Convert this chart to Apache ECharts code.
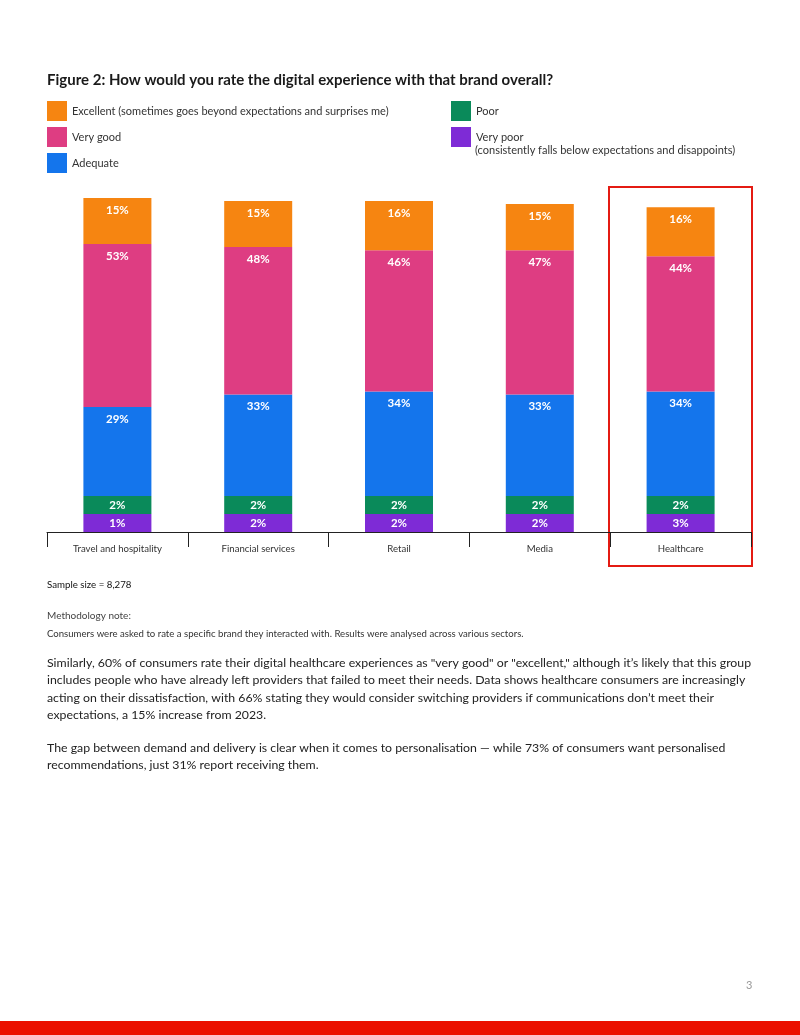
<!DOCTYPE html>
<html>
<head>
    <meta charset="UTF-8">
    <title>Figure 2</title>
    <script src="https://cdn.jsdelivr.net/npm/echarts@6/dist/echarts.min.js"></script>
    <style>
        html, body { margin: 0; padding: 0; background: #fff; }
        #chart { width: 800px; height: 1035px; }
    </style>
</head>
<body>
<div id="chart"></div>
<script type="text/javascript">
    // categories along the x axis
    var sectors = ['Travel and hospitality', 'Financial services', 'Retail', 'Media', 'Healthcare'];

    // percentages per rating (bottom of stack first)
    var veryPoor  = [1, 2, 2, 2, 3];
    var poor      = [2, 2, 2, 2, 2];
    var adequate  = [29, 33, 34, 33, 34];
    var veryGood  = [53, 48, 46, 47, 44];
    var excellent = [15, 15, 16, 15, 16];

    var ratingNames = ['Very poor', 'Poor', 'Adequate', 'Very good',
        'Excellent (sometimes goes beyond expectations and surprises me)'];
    var ratings = [veryPoor, poor, adequate, veryGood, excellent];
    var ratingColors = ['#7e2bd6', '#0a8a5a', '#1475ec', '#de3d82', '#f68511'];

    var FONT = 'Lato, "Noto Sans", sans-serif';
    var BAR_W = 68;
    var MIN_H = 18;   // small shares get a readable minimum height, as in the original

    function segHeight(api, v) {
        return Math.max(api.size([0, v])[1], MIN_H);
    }

    function makeSeries(level) {
        return {
            name: ratingNames[level],
            type: 'custom',
            itemStyle: { color: ratingColors[level] },
            encode: { x: 0, y: 1 },
            data: sectors.map(function (s, k) { return [k, ratings[level][k]]; }),
            renderItem: function (params, api) {
                var k = api.value(0);
                var base = api.coord([k, 0]);
                var y = base[1];
                for (var j = 0; j < level; j++) {
                    y -= segHeight(api, ratings[j][k]);
                }
                var h = segHeight(api, api.value(1));
                var small = api.size([0, api.value(1)])[1] < MIN_H;
                return {
                    type: 'rect',
                    shape: { x: base[0] - BAR_W / 2, y: y - h, width: BAR_W, height: h },
                    style: { fill: api.visual('color') },
                    textContent: {
                        style: { text: api.value(1) + '%', fill: '#fff', font: 'bold 11.5px ' + FONT }
                    },
                    textConfig: { position: small ? 'inside' : 'insideTop', distance: 6 }
                };
            }
        };
    }

    var legendText = { fontFamily: FONT, fontSize: 11, color: '#333' };

    var option = {
        animation: false,
        title: {
            text: 'Figure 2: How would you rate the digital experience with that brand overall?',
            left: 47,
            top: 73,
            padding: 0,
            textStyle: { fontFamily: FONT, fontSize: 15, fontWeight: 'bold', color: '#1a1a1a' }
        },
        legend: [{
            data: [ratingNames[4], ratingNames[3], ratingNames[2]],
            orient: 'vertical',
            left: 47,
            top: 101,
            padding: 0,
            itemWidth: 20,
            itemHeight: 20,
            itemGap: 6,
            icon: 'rect',
            selectedMode: false,
            textStyle: legendText
        }, {
            data: [ratingNames[1], ratingNames[0]],
            orient: 'vertical',
            left: 451,
            top: 101,
            padding: 0,
            itemWidth: 20,
            itemHeight: 20,
            itemGap: 6,
            icon: 'rect',
            selectedMode: false,
            textStyle: legendText
        }],
        grid: { left: 47, right: 49, top: 194, bottom: 503 },
        xAxis: {
            type: 'category',
            data: sectors,
            axisLine: { lineStyle: { color: '#222', width: 1 } },
            axisTick: { show: true, length: 15, lineStyle: { color: '#222' } },
            axisLabel: { fontFamily: FONT, fontSize: 9.6, color: '#333', margin: 12 }
        },
        yAxis: { type: 'value', min: 0, max: 110, show: false, splitLine: { show: false } },
        series: [makeSeries(0), makeSeries(1), makeSeries(2), makeSeries(3), makeSeries(4)],
        graphic: [
            { type: 'text', left: 475, top: 145,
              style: { text: '(consistently falls below expectations and disappoints)', font: '11px ' + FONT, fill: '#333' } },
            { type: 'rect', shape: { x: 609, y: 187, width: 143, height: 379 },
              style: { fill: 'none', stroke: '#e41b13', lineWidth: 2 } },
            { type: 'text', left: 47, top: 580,
              style: { text: 'Sample size = 8,278', font: '9.7px ' + FONT, fill: '#111' } },
            { type: 'text', left: 47, top: 611,
              style: { text: 'Methodology note:', font: '10px ' + FONT, fill: '#444' } },
            { type: 'text', left: 47, top: 629,
              style: { text: 'Consumers were asked to rate a specific brand they interacted with. Results were analysed across various sectors.', font: '9.6px ' + FONT, fill: '#333' } },
            { type: 'text', left: 47, top: 654,
              style: {
                  text: 'Similarly, 60% of consumers rate their digital healthcare experiences as "very good" or "excellent," although it\u2019s likely that this group\n' +
                        'includes people who have already left providers that failed to meet their needs. Data shows healthcare consumers are increasingly\n' +
                        'acting on their dissatisfaction, with 66% stating they would consider switching providers if communications don\u2019t meet their\n' +
                        'expectations, a 15% increase from 2023.',
                  font: '12.3px ' + FONT, fill: '#222', lineHeight: 17.5 } },
            { type: 'text', left: 47, top: 739,
              style: {
                  text: 'The gap between demand and delivery is clear when it comes to personalisation \u2014 while 73% of consumers want personalised\n' +
                        'recommendations, just 31% report receiving them.',
                  font: '12.3px ' + FONT, fill: '#222', lineHeight: 17.5 } },
            { type: 'text', left: 746, top: 980,
              style: { text: '3', font: '11px ' + FONT, fill: '#999' } },
            { type: 'rect', shape: { x: 0, y: 1021, width: 800, height: 14 },
              style: { fill: '#eb1000' } }
        ]
    };

    echarts.init(document.getElementById('chart')).setOption(option);
</script>
</body>
</html>
